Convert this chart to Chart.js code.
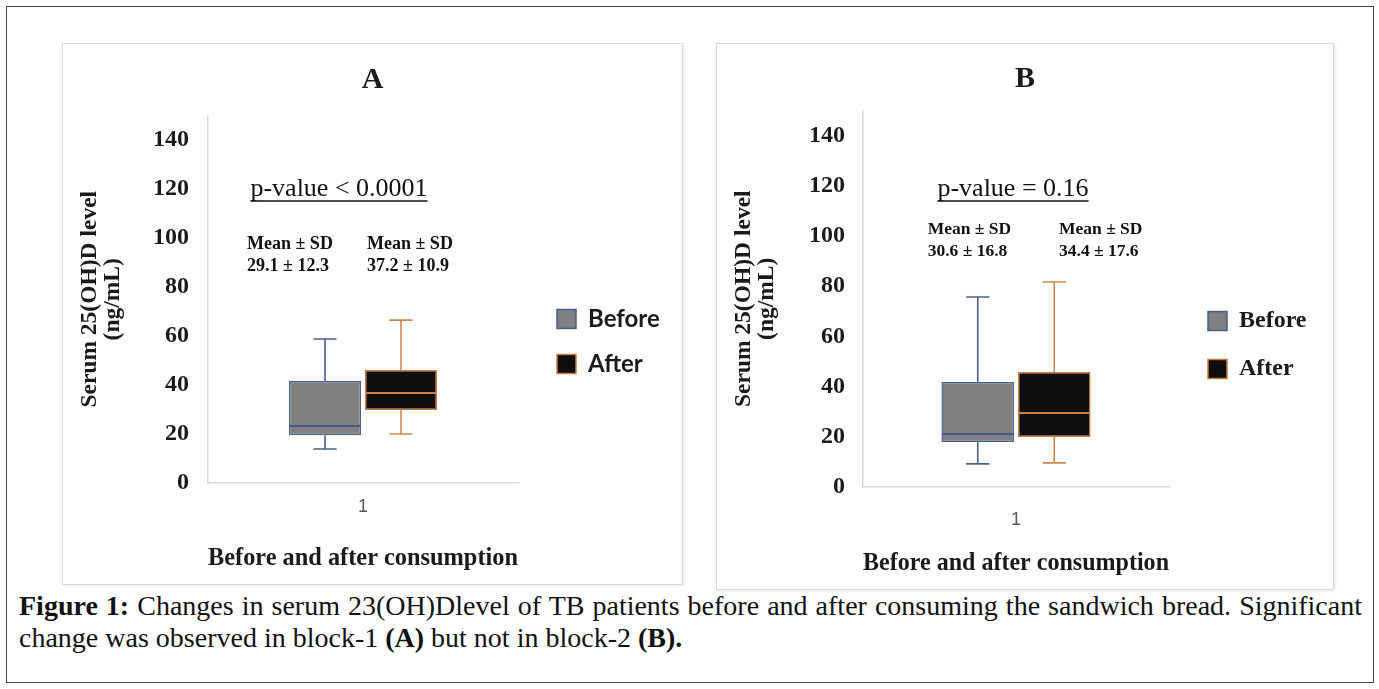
<!DOCTYPE html>
<html>
<head>
<meta charset="utf-8">
<script src="https://cdn.jsdelivr.net/npm/chart.js@4.4.1/dist/chart.umd.min.js"></script>
<style>
body{margin:0;width:1379px;height:689px;background:#fff;position:relative;overflow:hidden;font-family:"Liberation Serif",serif}
#frame{position:absolute;left:6px;top:6px;width:1368px;height:677px;border:1px solid #444;box-sizing:border-box}
.panel{position:absolute;border:1px solid #d9d9d9;box-shadow:1px 1px 3px rgba(0,0,0,.10);box-sizing:border-box;background:#fff}
.panel div{position:relative;width:100%;height:100%}
#pa{left:62px;top:43px;width:621px;height:542px}
#pb{left:716px;top:43px;width:618px;height:547px}
#cap{position:absolute;left:19px;top:590px;width:1343px;font-size:28px;line-height:32px;color:#111}
#cap .l1{text-align:justify;text-align-last:justify;white-space:nowrap}
</style>
</head>
<body>
<div id="frame"></div>
<div class="panel" id="pa"><div><canvas id="chartA"></canvas></div></div>
<div class="panel" id="pb"><div><canvas id="chartB"></canvas></div></div>
<div id="cap">
  <div class="l1"><b>Figure 1:</b> Changes in serum 23(OH)Dlevel of TB patients before and after consuming the sandwich bread. Significant</div>
  <div>change was observed in block-1 <b>(A)</b> but not in block-2 <b>(B).</b></div>
</div>
<script>
// data
var categories = ['1'];
var seriesNames = ['Before', 'After'];
// box stats: min, q1, median, q3, max
var blockA_before = [13.9, 19.5, 23.3, 41.6, 58.8];
var blockA_after  = [20.0, 29.8, 36.7, 46.1, 66.5];
var blockB_before = [9.2, 17.9, 21.1, 41.8, 75.7];
var blockB_after  = [9.6, 19.9, 29.5, 45.8, 81.7];
var yTicks = [0, 20, 40, 60, 80, 100, 120, 140];
var pValueA = 'p-value < 0.0001';
var pValueB = 'p-value = 0.16';
var meanSdA = ['29.1 \u00b1 12.3', '37.2 \u00b1 10.9'];
var meanSdB = ['30.6 \u00b1 16.8', '34.4 \u00b1 17.6'];

var serif = '"Liberation Serif", "Times New Roman", serif';

// whiskers + median lines, placed with the chart's own scales
var boxPlugin = {
  id: 'boxWhisker',
  afterDatasetsDraw: function(chart) {
    var ctx = chart.ctx, y = chart.scales.y;
    chart.data.datasets.forEach(function(ds, i) {
      chart.getDatasetMeta(i).data.forEach(function(bar, j) {
        var s = ds.stats[j];
        var cx = bar.x, half = bar.width / 2, cap = bar.width * 0.16;
        var yMin = y.getPixelForValue(s[0]), yQ1 = y.getPixelForValue(s[1]),
            yMed = y.getPixelForValue(s[2]), yQ3 = y.getPixelForValue(s[3]),
            yMax = y.getPixelForValue(s[4]);
        ctx.save();
        ctx.strokeStyle = ds.whiskerColor;
        ctx.lineWidth = 1.6;
        ctx.beginPath();
        ctx.moveTo(cx, yQ3); ctx.lineTo(cx, yMax);
        ctx.moveTo(cx - cap, yMax); ctx.lineTo(cx + cap, yMax);
        ctx.moveTo(cx, yQ1); ctx.lineTo(cx, yMin);
        ctx.moveTo(cx - cap, yMin); ctx.lineTo(cx + cap, yMin);
        ctx.stroke();
        ctx.strokeStyle = ds.medianColor;
        ctx.lineWidth = 2;
        ctx.beginPath();
        ctx.moveTo(cx - half + 1, yMed); ctx.lineTo(cx + half - 1, yMed);
        ctx.stroke();
        ctx.restore();
      });
    });
  }
};

// move the legend next to the plot
var legendPlace = {
  id: 'legendPlace',
  afterLayout: function(chart, args, o) {
    var L = chart.legend, ca = chart.chartArea;
    L.left = ca.right + o.dx; L.right = L.left + L.width;
    L.top = ca.top + o.dy; L.bottom = L.top + L.height;
  }
};

// p-value and mean +- SD texts
var notesPlugin = {
  id: 'notes',
  afterDraw: function(chart, args, o) {
    var ctx = chart.ctx, ca = chart.chartArea;
    ctx.save();
    ctx.fillStyle = '#111'; ctx.strokeStyle = '#111';
    ctx.textBaseline = 'alphabetic';
    ctx.font = '26px ' + serif;
    ctx.textAlign = 'center';
    var px = ca.left + o.pX, py = ca.top + o.pY;
    ctx.fillText(o.pText, px, py);
    var w = ctx.measureText(o.pText).width;
    ctx.lineWidth = 1.3;
    ctx.beginPath(); ctx.moveTo(px - w / 2, py + 5); ctx.lineTo(px + w / 2, py + 5); ctx.stroke();
    ctx.font = 'bold ' + o.mSize + 'px ' + serif;
    ctx.textAlign = 'left';
    o.means.forEach(function(m, i) {
      var x = ca.left + o.mX[i];
      ctx.fillText('Mean \u00b1 SD', x, ca.top + o.mY);
      ctx.fillText(m, x, ca.top + o.mY + 22);
    });
    ctx.restore();
  }
};

function makeDatasets(before, after) {
  return [{
    label: seriesNames[0],
    data: categories.map(function() { return [before[1], before[3]]; }),
    stats: [before],
    backgroundColor: '#7f7f7f', borderColor: '#4b5f8c',
    whiskerColor: '#4b5f8c', medianColor: '#43598c',
    borderWidth: 1.5, borderSkipped: false
  }, {
    label: seriesNames[1],
    data: categories.map(function() { return [after[1], after[3]]; }),
    stats: [after],
    backgroundColor: '#0d0d0d', borderColor: '#c8783a',
    whiskerColor: '#c98a55', medianColor: '#d0803f',
    borderWidth: 1.5, borderSkipped: false
  }];
}

function makeChart(id, cfg) {
  return new Chart(document.getElementById(id), {
    type: 'bar',
    data: { labels: categories, datasets: makeDatasets(cfg.before, cfg.after) },
    plugins: [boxPlugin, legendPlace, notesPlugin],
    options: {
      responsive: true,
      maintainAspectRatio: false,
      animation: false,
      layout: { padding: 0 },
      datasets: { bar: { categoryPercentage: cfg.catPct, barPercentage: 0.95 } },
      plugins: {
        tooltip: { enabled: false },
        title: {
          display: true, text: cfg.title, color: '#1a1a1a',
          font: { family: serif, weight: 'bold', size: 30 },
          padding: cfg.titlePad
        },
        legend: {
          position: 'chartArea', align: 'start',
          labels: {
            boxWidth: 19, boxHeight: 19, padding: cfg.legendPad, color: '#1a1a1a',
            font: cfg.legendFont
          }
        },
        legendPlace: { dx: cfg.legendDx, dy: cfg.legendDy },
        notes: cfg.notes
      },
      scales: {
        x: {
          grid: { display: false, drawTicks: false },
          border: { color: '#d9d9d9', width: 1.5 },
          ticks: { color: '#595959', padding: cfg.xTickPad, font: { family: '"Liberation Sans", sans-serif', size: 18 } },
          title: {
            display: true, text: 'Before and after consumption', color: '#1a1a1a',
            font: { family: serif, weight: 'bold', size: 25.5 },
            padding: { top: 0, bottom: 10 }
          },
          afterFit: function(s) { s.height = cfg.xHeight; }
        },
        y: {
          min: 0, max: 150,
          afterBuildTicks: function(s) { s.ticks = yTicks.map(function(v) { return { value: v }; }); },
          grid: { display: false, drawTicks: false },
          border: { color: '#d9d9d9', width: 1.5 },
          ticks: { color: '#1a1a1a', padding: cfg.yTickPad, font: { family: serif, weight: 'bold', size: 24 } },
          title: {
            display: true, text: ['Serum 25(OH)D level', '(ng/mL)'], color: '#1a1a1a',
            font: { family: serif, weight: 'bold', size: 23.5, lineHeight: 0.98 },
            padding: { top: 15.5, bottom: 0 }
          },
          afterFit: function(s) { s.width = cfg.yWidth; }
        },
        // empty right-hand strip that keeps room for the legend
        gap: {
          type: 'linear', position: 'right', display: true,
          grid: { display: false }, border: { display: false }, ticks: { display: false },
          afterFit: function(s) { s.width = cfg.gapWidth; }
        }
      }
    }
  });
}

makeChart('chartA', {
  before: blockA_before, after: blockA_after, title: 'A', catPct: 0.49,
  gapWidth: 164, titlePad: { top: 18, bottom: 17.5 },
  yWidth: 145, yTickPad: 19, xHeight: 101, xTickPad: 13.5,
  legendPad: 21, legendDx: 18, legendDy: 170.5,
  legendFont: { family: 'Lato, sans-serif', weight: 'bold', size: 24 },
  notes: { pText: pValueA, pX: 131, pY: 80.5, means: meanSdA, mX: [39, 159], mY: 133.5, mSize: 18 }
});

makeChart('chartB', {
  before: blockB_before, after: blockB_after, title: 'B', catPct: 0.5,
  gapWidth: 164, titlePad: { top: 17.5, bottom: 13 },
  yWidth: 146, yTickPad: 18, xHeight: 102, xTickPad: 22.5,
  legendPad: 24, legendDx: 15, legendDy: 174.5,
  legendFont: { family: serif, weight: 'bold', size: 24 },
  notes: { pText: pValueB, pX: 150, pY: 85.5, means: meanSdB, mX: [64.7, 196], mY: 123.5, mSize: 17.5 }
});
</script>
</body>
</html>
